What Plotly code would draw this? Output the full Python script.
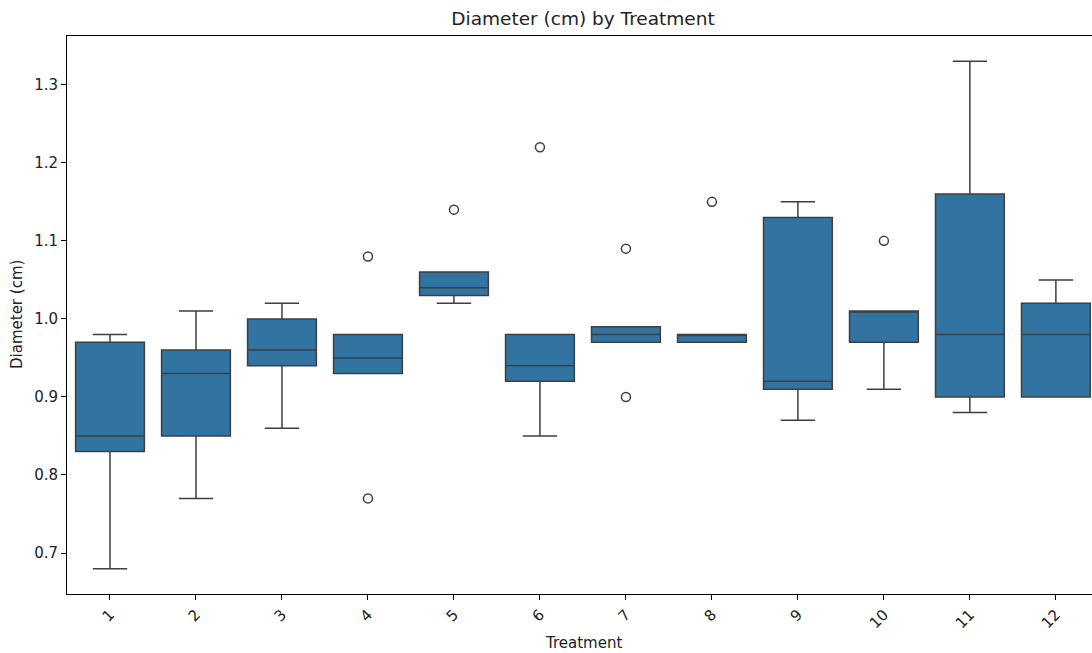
import plotly.graph_objects as go

treatments = ["1", "2", "3", "4", "5", "6", "7", "8", "9", "10", "11", "12"]
q1 = [0.83, 0.85, 0.94, 0.93, 1.03, 0.92, 0.97, 0.97, 0.91, 0.97, 0.90, 0.90]
median = [0.85, 0.93, 0.96, 0.95, 1.04, 0.94, 0.98, 0.98, 0.92, 1.01, 0.98, 0.98]
q3 = [0.97, 0.96, 1.00, 0.98, 1.06, 0.98, 0.99, 0.98, 1.13, 1.01, 1.16, 1.02]
lower_fence = [0.68, 0.77, 0.86, 0.93, 1.02, 0.85, 0.97, 0.97, 0.87, 0.91, 0.88, 0.90]
upper_fence = [0.98, 1.01, 1.02, 0.98, 1.06, 0.98, 0.99, 0.98, 1.15, 1.01, 1.33, 1.05]

outlier_treatment = ["4", "4", "5", "6", "7", "7", "8", "10"]
outlier_values = [1.08, 0.77, 1.14, 1.22, 1.09, 0.90, 1.15, 1.10]

pos = {t: i for i, t in enumerate(treatments)}
x_pos = [pos[t] for t in treatments]
out_x = [pos[t] for t in outlier_treatment]

edge = "#3f3f3f"
fill = "#3274a1"
font = "DejaVu Sans"
W, H = 1092, 653
L, R, T, B = 67, 0, 36, 59
pw = W - L - R
ph = H - T - B

fig = go.Figure()
fig.add_trace(go.Box(
    x=x_pos, q1=q1, median=median, q3=q3,
    lowerfence=lower_fence, upperfence=upper_fence,
    width=0.8, whiskerwidth=0.5,
    fillcolor=fill, line=dict(color=edge, width=1.5),
    boxpoints=False, showlegend=False,
))
fig.add_trace(go.Scatter(
    x=out_x, y=outlier_values, mode="markers",
    marker=dict(symbol="circle-open", size=9, color=edge, line=dict(width=1.5, color=edge)),
    showlegend=False,
))

fig.update_layout(
    width=W, height=H, autosize=False,
    margin=dict(l=L, r=R, t=T, b=B),
    paper_bgcolor="white", plot_bgcolor="white",
    font=dict(family=font, size=15, color="#222"),
    title=dict(text="Diameter (cm) by Treatment", xref="paper", x=(583 - L) / pw, xanchor="center",
               y=1 - 19 / H, yanchor="middle", font=dict(size=18.5, color="#222")),
    annotations=[
        dict(text="Diameter (cm)", xref="paper", yref="paper",
             x=(17 - L) / pw, y=0.5, xanchor="center", yanchor="middle",
             textangle=-90, showarrow=False, font=dict(size=15, color="#222")),
        dict(text="Treatment", xref="paper", yref="paper",
             x=(583 - L) / pw, y=-(643 - (T + ph)) / ph, xanchor="center", yanchor="middle",
             showarrow=False, font=dict(size=15, color="#222")),
    ],
)
fig.update_xaxes(
    automargin=False,
    range=[-0.5, 11.42], tickmode="array", tickvals=x_pos, ticktext=treatments,
    tickangle=-45, showgrid=False, zeroline=False,
    showline=True, linecolor="black", linewidth=1, mirror=True,
    ticks="outside", ticklen=5, tickcolor="black", tickfont=dict(size=15),
)
fig.update_yaxes(
    automargin=False,
    range=[0.6475, 1.3625], tickvals=[0.7, 0.8, 0.9, 1.0, 1.1, 1.2, 1.3],
    ticktext=["0.7", "0.8", "0.9", "1.0", "1.1", "1.2", "1.3"],
    showgrid=False, zeroline=False,
    showline=True, linecolor="black", linewidth=1,
    ticks="outside", ticklen=5, tickcolor="black", tickfont=dict(size=15),
)

post = (
    "document.body.style.margin='0';document.body.style.overflow='hidden';"
    "var gd=document.getElementById('{plot_id}');"
    "Plotly.relayout(gd,{width:1092,height:653});"
)
fig.write_html("out.html", post_script=post,
               config={"responsive": False, "displayModeBar": False})
